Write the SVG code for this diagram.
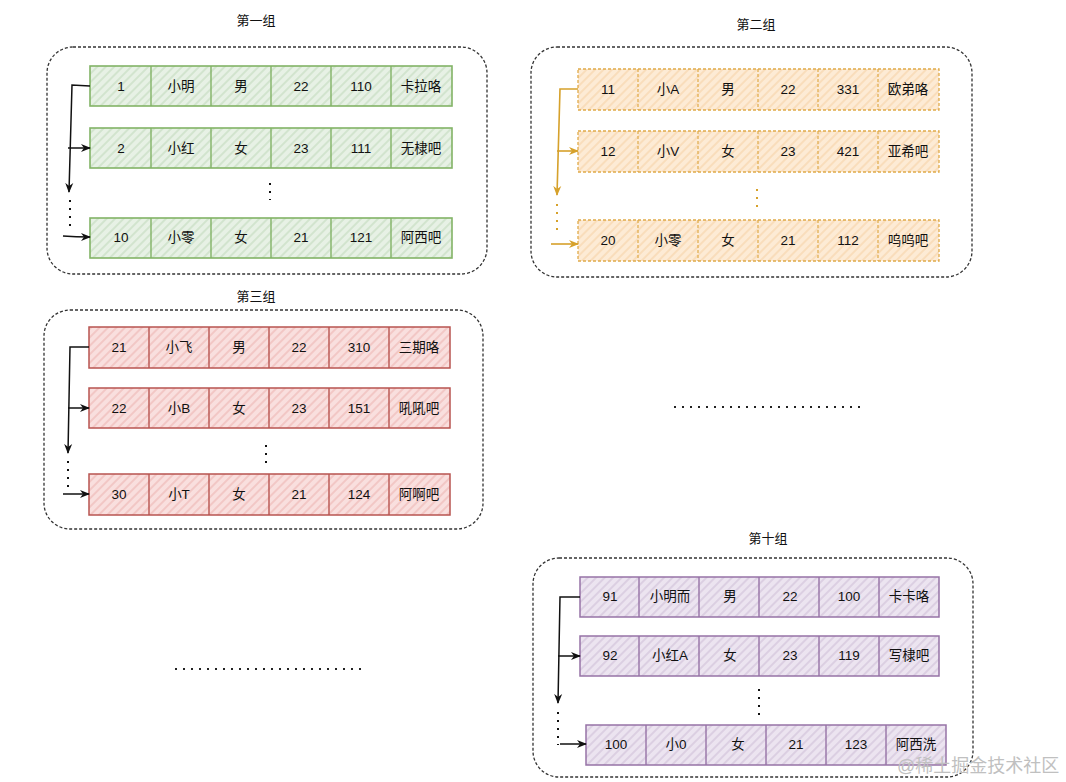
<svg xmlns="http://www.w3.org/2000/svg" width="1066" height="782" viewBox="0 0 1066 782">
<style>
text{font-family:"Liberation Sans","Noto Sans CJK SC",sans-serif;font-size:13.5px;fill:#111;text-anchor:middle}
.title{font-size:13px}
.box{fill:none;stroke:#333;stroke-width:1.3;stroke-dasharray:3 2}
.g{fill:url(#hg);stroke:#82b366;stroke-width:1.6}
.gl{stroke:#82b366;stroke-width:1.4}
.o{fill:url(#ho);stroke:#e0ab4a;stroke-width:1.3;stroke-dasharray:3 2}
.ol{stroke:#e0ab4a;stroke-width:1.2;stroke-dasharray:3 2}
.r{fill:url(#hr);stroke:#b85450;stroke-width:1.5}
.rl{stroke:#b85450;stroke-width:1.4}
.p{fill:url(#hp);stroke:#9673a6;stroke-width:1.5}
.pl{stroke:#9673a6;stroke-width:1.4}
.c{fill:none;stroke:#111;stroke-width:1.5}
.co{fill:none;stroke:#d6a12b;stroke-width:1.6}
.dot{fill:none;stroke:#111;stroke-width:2;stroke-dasharray:2 6}
.doto{fill:none;stroke:#d6a12b;stroke-width:2;stroke-dasharray:2 6}
.hdots{fill:none;stroke:#222;stroke-width:2;stroke-dasharray:2 6}
.wm{font-size:18px;fill:#c0c0c0;text-anchor:start}
</style>
<defs>
<pattern id="hg" width="6" height="6" patternUnits="userSpaceOnUse" patternTransform="rotate(45)"><rect width="6" height="6" fill="#e7f1e5"/><line x1="2" y1="0" x2="2" y2="6" stroke="#c9dfc5" stroke-width="1.4"/></pattern>
<pattern id="ho" width="6" height="6" patternUnits="userSpaceOnUse" patternTransform="rotate(45)"><rect width="6" height="6" fill="#fdebd5"/><line x1="2" y1="0" x2="2" y2="6" stroke="#f8d8b0" stroke-width="1.4"/></pattern>
<pattern id="hr" width="6" height="6" patternUnits="userSpaceOnUse" patternTransform="rotate(45)"><rect width="6" height="6" fill="#f9dfde"/><line x1="2" y1="0" x2="2" y2="6" stroke="#efbdbb" stroke-width="1.4"/></pattern>
<pattern id="hp" width="6" height="6" patternUnits="userSpaceOnUse" patternTransform="rotate(45)"><rect width="6" height="6" fill="#ece4f0"/><line x1="2" y1="0" x2="2" y2="6" stroke="#d5c7dd" stroke-width="1.4"/></pattern>
<marker id="ak" viewBox="0 0 10 10" refX="9" refY="5" markerWidth="10" markerHeight="10" markerUnits="userSpaceOnUse" orient="auto"><path d="M0,1 L10,5 L0,9 L3,5 z" fill="#111"/></marker>
<marker id="ao" viewBox="0 0 10 10" refX="9" refY="5" markerWidth="10" markerHeight="10" markerUnits="userSpaceOnUse" orient="auto"><path d="M0,1 L10,5 L0,9 L3,5 z" fill="#d6a12b"/></marker>
</defs>

<!-- Group 1 -->
<g id="group1">
<text class="title" x="256" y="25">第一组</text>
<rect class="box" x="47" y="47" width="440" height="227" rx="26"/>
</g>
<g id="g1-row1">
<rect class="g" x="90" y="66" width="362" height="40"/>
<path class="gl" d="M151,66V106M211,66V106M271,66V106M331,66V106M391,66V106"/>
<text x="121" y="91">1</text><text x="181" y="91">小明</text><text x="241" y="91">男</text><text x="301" y="91">22</text><text x="361" y="91">110</text><text x="421" y="91">卡拉咯</text>
</g>
<g id="g1-row2">
<rect class="g" x="90" y="128" width="362" height="40"/>
<path class="gl" d="M151,128V168M211,128V168M271,128V168M331,128V168M391,128V168"/>
<text x="121" y="153">2</text><text x="181" y="153">小红</text><text x="241" y="153">女</text><text x="301" y="153">23</text><text x="361" y="153">111</text><text x="421" y="153">无棣吧</text>
</g>
<g id="g1-row3">
<rect class="g" x="90" y="218" width="362" height="40"/>
<path class="gl" d="M151,218V258M211,218V258M271,218V258M331,218V258M391,218V258"/>
<text x="121" y="242">10</text><text x="181" y="242">小零</text><text x="241" y="242">女</text><text x="301" y="242">21</text><text x="361" y="242">121</text><text x="421" y="242">阿西吧</text>
</g>

<!-- Group 2 -->
<g id="group2">
<text class="title" x="756" y="29">第二组</text>
<rect class="box" x="531" y="47" width="441" height="230" rx="26"/>
</g>
<g id="g2-row1">
<rect class="o" x="578" y="69" width="361" height="41"/>
<path class="ol" d="M638,69V110M698,69V110M758,69V110M818,69V110M878,69V110"/>
<text x="608" y="94">11</text><text x="668" y="94">小A</text><text x="728" y="94">男</text><text x="788" y="94">22</text><text x="848" y="94">331</text><text x="908" y="94">欧弟咯</text>
</g>
<g id="g2-row2">
<rect class="o" x="578" y="131" width="361" height="41"/>
<path class="ol" d="M638,131V172M698,131V172M758,131V172M818,131V172M878,131V172"/>
<text x="608" y="156">12</text><text x="668" y="156">小V</text><text x="728" y="156">女</text><text x="788" y="156">23</text><text x="848" y="156">421</text><text x="908" y="156">亚希吧</text>
</g>
<g id="g2-row3">
<rect class="o" x="578" y="220" width="361" height="41"/>
<path class="ol" d="M638,220V261M698,220V261M758,220V261M818,220V261M878,220V261"/>
<text x="608" y="245">20</text><text x="668" y="245">小零</text><text x="728" y="245">女</text><text x="788" y="245">21</text><text x="848" y="245">112</text><text x="908" y="245">呜呜吧</text>
</g>

<!-- Group 3 -->
<g id="group3">
<text class="title" x="256" y="301">第三组</text>
<rect class="box" x="44" y="310" width="439" height="219" rx="26"/>
</g>
<g id="g3-row1">
<rect class="r" x="89" y="327" width="361" height="41"/>
<path class="rl" d="M149,327V368M209,327V368M269,327V368M329,327V368M389,327V368"/>
<text x="119" y="352">21</text><text x="179" y="352">小飞</text><text x="239" y="352">男</text><text x="299" y="352">22</text><text x="359" y="352">310</text><text x="419" y="352">三期咯</text>
</g>
<g id="g3-row2">
<rect class="r" x="89" y="388" width="361" height="40"/>
<path class="rl" d="M149,388V428M209,388V428M269,388V428M329,388V428M389,388V428"/>
<text x="119" y="413">22</text><text x="179" y="413">小B</text><text x="239" y="413">女</text><text x="299" y="413">23</text><text x="359" y="413">151</text><text x="419" y="413">吼吼吧</text>
</g>
<g id="g3-row3">
<rect class="r" x="89" y="474" width="361" height="41"/>
<path class="rl" d="M149,474V515M209,474V515M269,474V515M329,474V515M389,474V515"/>
<text x="119" y="499">30</text><text x="179" y="499">小T</text><text x="239" y="499">女</text><text x="299" y="499">21</text><text x="359" y="499">124</text><text x="419" y="499">阿啊吧</text>
</g>

<!-- Group 10 -->
<g id="group10">
<text class="title" x="768" y="543">第十组</text>
<rect class="box" x="533" y="558" width="440" height="219" rx="26"/>
</g>
<g id="g10-row1">
<rect class="p" x="580" y="577" width="359" height="40"/>
<path class="pl" d="M639,577V617M699,577V617M759,577V617M819,577V617M879,577V617"/>
<text x="610" y="601">91</text><text x="670" y="601">小明而</text><text x="730" y="601">男</text><text x="790" y="601">22</text><text x="849" y="601">100</text><text x="909" y="601">卡卡咯</text>
</g>
<g id="g10-row2">
<rect class="p" x="580" y="636" width="359" height="40"/>
<path class="pl" d="M639,636V676M699,636V676M759,636V676M819,636V676M879,636V676"/>
<text x="610" y="660">92</text><text x="670" y="660">小红A</text><text x="730" y="660">女</text><text x="790" y="660">23</text><text x="849" y="660">119</text><text x="909" y="660">写棣吧</text>
</g>
<g id="g10-row3">
<rect class="p" x="586" y="725" width="360" height="40"/>
<path class="pl" d="M646,725V765M706,725V765M766,725V765M826,725V765M886,725V765"/>
<text x="616" y="749">100</text><text x="676" y="749">小0</text><text x="738" y="749">女</text><text x="796" y="749">21</text><text x="856" y="749">123</text><text x="916" y="749">阿西洗</text>
</g>

<!-- Connectors -->
<g id="connectors">
<path class="c" d="M90,86 L72,85 L69,192" marker-end="url(#ak)"/>
<path class="c" d="M68,148 L90,148" marker-end="url(#ak)"/>
<path class="dot" d="M70,200 L70,230"/>
<path class="c" d="M63,236 Q76,237 90,237" marker-end="url(#ak)"/>
<path class="dot" d="M270,183 L270,200"/>

<path class="co" d="M578,89 L560,89 L557,195" marker-end="url(#ao)"/>
<path class="co" d="M557,151 L578,151" marker-end="url(#ao)"/>
<path class="doto" d="M557,204 L557,236"/>
<path class="co" d="M551,244 L578,244" marker-end="url(#ao)"/>
<path class="doto" d="M757,189 L757,208"/>

<path class="c" d="M89,347 L70,347 L68,453" marker-end="url(#ak)"/>
<path class="c" d="M68,408 L89,408" marker-end="url(#ak)"/>
<path class="dot" d="M68,461 L68,492"/>
<path class="c" d="M63,494 L89,494" marker-end="url(#ak)"/>
<path class="dot" d="M266,445 L266,464"/>

<path class="c" d="M580,597 L560,597 L558,703" marker-end="url(#ak)"/>
<path class="c" d="M558,656 L580,656" marker-end="url(#ak)"/>
<path class="dot" d="M558,712 L558,745"/>
<path class="c" d="M560,744 L586,744" marker-end="url(#ak)"/>
<path class="dot" d="M759,689 L759,716"/>

<path class="hdots" d="M674,407 L862,407"/>
<path class="hdots" d="M175,669 L363,669"/>
</g>
<text class="wm" x="897" y="772">@稀土掘金技术社区</text>
</svg>
